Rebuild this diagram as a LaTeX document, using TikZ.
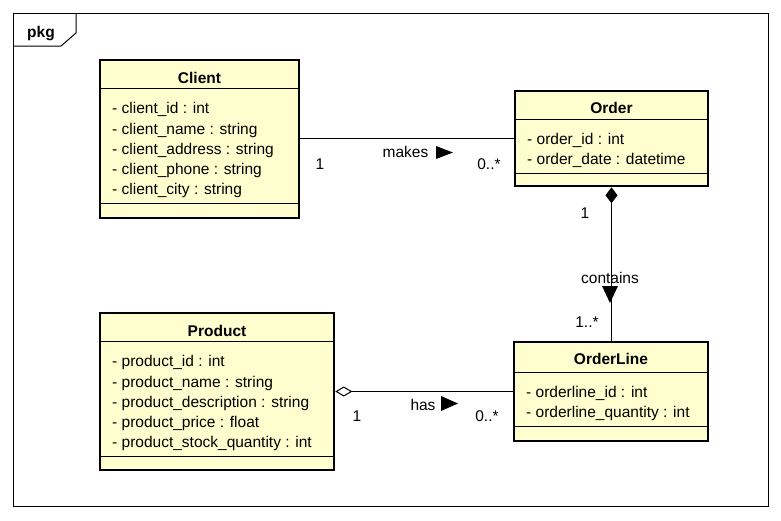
\documentclass[tikz,border=0pt]{standalone}
\usepackage{fontspec}
\setmainfont{Liberation Sans}
\usetikzlibrary{arrows.meta}
\definecolor{classfill}{HTML}{FEFECE}
\begin{document}
\begin{tikzpicture}[x=1pt,y=-1pt,
  txt/.style={font=\fontsize{15.5}{18}\selectfont, inner sep=0pt},
  classbox/.style={draw=black, line width=2.6pt, fill=classfill, inner sep=0pt},
  title/.style={txt, font=\fontsize{15.5}{18}\selectfont\bfseries, anchor=base},
  attr/.style={txt, anchor=base west},
  lbl/.style={txt, anchor=base},
  sep/.style={line width=1pt},
  conn/.style={line width=1pt},
  dirtri/.style={fill=black}]
\useasboundingbox (0,0) rectangle (781,520);

% package frame with its name tab
\draw[line width=1pt] (13,13) rectangle (768,506);
\draw[line width=1pt] (13,46) -- (61,46) -- (76,33) -- (76,13);
\node[title] (pkg) at (41,37) {pkg};

% class Client
\node[classbox, minimum width=199pt, minimum height=158pt] (client) at (199.5,139) {};
\draw[sep] ([yshift=-30pt]client.north west) -- ([yshift=-30pt]client.north east);
\draw[sep] ([yshift=16pt]client.south west) -- ([yshift=16pt]client.south east);
\node[title] (clientname) at (199.5,83) {Client};
\node[attr] (c1) at (112,113) {- client\_id : int};
\node[attr] (c2) at (112,134) {- client\_name : string};
\node[attr] (c3) at (112,154) {- client\_address : string};
\node[attr] (c4) at (112,174) {- client\_phone : string};
\node[attr] (c5) at (112,194) {- client\_city : string};

% class Order
\node[classbox, minimum width=193pt, minimum height=95pt] (order) at (611.5,138.5) {};
\draw[sep] ([yshift=-30pt]order.north west) -- ([yshift=-30pt]order.north east);
\draw[sep] ([yshift=14pt]order.south west) -- ([yshift=14pt]order.south east);
\node[title] (ordername) at (611.5,113) {Order};
\node[attr] (o1) at (527,144) {- order\_id : int};
\node[attr] (o2) at (527,164) {- order\_date : datetime};

% class Product
\node[classbox, minimum width=234pt, minimum height=157pt] (product) at (217,391.5) {};
\draw[sep] ([yshift=-30pt]product.north west) -- ([yshift=-30pt]product.north east);
\draw[sep] ([yshift=15pt]product.south west) -- ([yshift=15pt]product.south east);
\node[title] (productname) at (217,336) {Product};
\node[attr] (p1) at (112,366) {- product\_id : int};
\node[attr] (p2) at (112,387) {- product\_name : string};
\node[attr] (p3) at (112,407) {- product\_description : string};
\node[attr] (p4) at (112,427) {- product\_price : float};
\node[attr] (p5) at (112,447) {- product\_stock\_quantity : int};

% class OrderLine
\node[classbox, minimum width=194pt, minimum height=99pt] (orderline) at (611,391.5) {};
\draw[sep] ([yshift=-32pt]orderline.north west) -- ([yshift=-32pt]orderline.north east);
\draw[sep] ([yshift=16pt]orderline.south west) -- ([yshift=16pt]orderline.south east);
\node[title] (orderlinename) at (611,364) {OrderLine};
\node[attr] (l1) at (526,397) {- orderline\_id : int};
\node[attr] (l2) at (526,417) {- orderline\_quantity : int};

% association Client -- Order
\draw[conn] (order.west -| client.east) -- (order.west);
\node[lbl] (m1) at (320,169) {1};
\node[lbl] (makes) at (405.5,157.5) {makes};
\node[lbl] (mn) at (489,169) {0..*};
\fill[dirtri] (436,146) -- (436,159) -- (453,152.5) -- cycle;

% composition Order <>-- OrderLine
\draw[conn, {Diamond[length=16pt, width=12pt]}-] (order.south) -- (order.south |- orderline.north);
\node[lbl] (k1) at (585,218.5) {1};
\node[lbl] (contains) at (610,283) {contains};
\node[lbl] (kn) at (587,327) {1..*};
\fill[dirtri] (602,286) -- (618,286) -- (610,303) -- cycle;

% aggregation Product <>-- OrderLine
\draw[conn, {Diamond[open, fill=white, length=17pt, width=10pt]}-] (product.east) -- (orderline.west);
\node[lbl] (h1) at (357,421.5) {1};
\node[lbl] (has) at (423,410.5) {has};
\node[lbl] (hn) at (487,421.5) {0..*};
\fill[dirtri] (441,396) -- (441,411) -- (458,403.5) -- cycle;
\end{tikzpicture}
\end{document}
